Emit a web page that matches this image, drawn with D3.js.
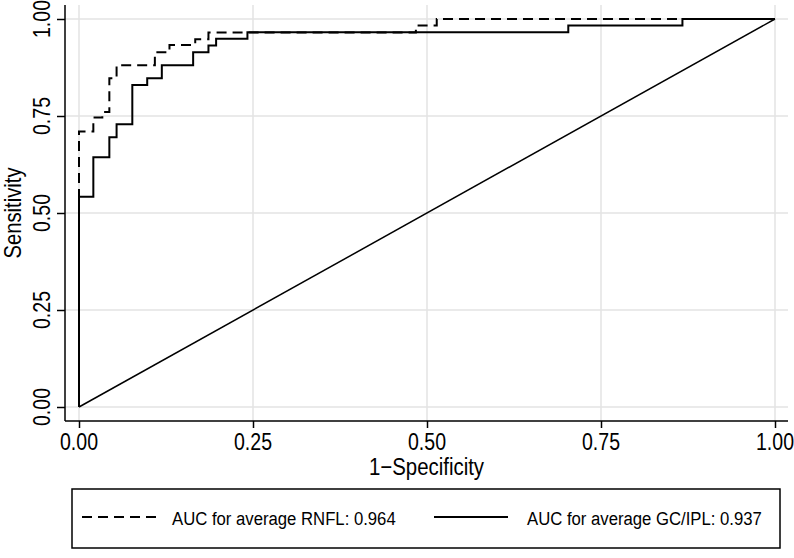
<!DOCTYPE html>
<html><head><meta charset="utf-8">
<script src="https://cdn.jsdelivr.net/npm/d3@7"></script>
<style>html,body{margin:0;padding:0;background:#fff;}svg{display:block;}</style>
</head><body>
<svg id="chart" width="794" height="558"></svg>
<script>
// ---- data ----
const xTicks = [0, 0.25, 0.5, 0.75, 1];
const yTicks = [0, 0.25, 0.5, 0.75, 1];
const xTickLabels = ["0.00", "0.25", "0.50", "0.75", "1.00"];
const yTickLabels = ["0.00", "0.25", "0.50", "0.75", "1.00"];
// ROC points (1-specificity, sensitivity); steps drawn horizontally then vertically
const rnflFPR = [0, 0, 0.0206, 0.0335, 0.0436, 0.054, 0.109, 0.130, 0.167, 0.186, 0.484, 0.514, 1];
const rnflTPR = [0, 0.71, 0.746, 0.760, 0.847, 0.881, 0.914, 0.933, 0.948, 0.965, 0.983, 1.0, 1.0];
const gcFPR = [0, 0, 0.0206, 0.0436, 0.054, 0.0766, 0.098, 0.119, 0.164, 0.186, 0.197, 0.242, 0.703, 0.867, 1];
const gcTPR = [0, 0.542, 0.644, 0.695, 0.729, 0.830, 0.847, 0.881, 0.914, 0.932, 0.949, 0.966, 0.983, 1.0, 1.0];
const refLine = [[0, 0], [1, 1]];
const legendLabels = ["AUC for average RNFL: 0.964", "AUC for average GC/IPL: 0.937"];
const xTitle = "1\u2212Specificity";
const yTitle = "Sensitivity";

// ---- layout ----
const svg = d3.select("#chart");
const font = "'Liberation Sans', Arial, sans-serif";
const SX = 0.85;
const x = d3.scaleLinear().domain([0, 1]).range([79, 775]);
const y = d3.scaleLinear().domain([0, 1]).range([407, 19]);
const plotL = 65, plotR = 788, plotT = 5, plotB = 421;

// gridlines
const grid = svg.append("g");
grid.selectAll("line.gx").data(xTicks).join("line")
  .attr("x1", d => x(d)).attr("x2", d => x(d)).attr("y1", plotT).attr("y2", plotB)
  .attr("stroke", "#e3e3e3").attr("stroke-width", 1.5);
grid.selectAll("line.gy").data(yTicks).join("line")
  .attr("y1", d => y(d)).attr("y2", d => y(d)).attr("x1", plotL).attr("x2", plotR)
  .attr("stroke", "#e3e3e3").attr("stroke-width", 1.5);

// axes
const xAxis = svg.append("g").attr("transform", `translate(0,${plotB})`)
  .call(d3.axisBottom(x).tickValues(xTicks).tickSize(7).tickFormat(""));
const yAxis = svg.append("g").attr("transform", `translate(${plotL},0)`)
  .call(d3.axisLeft(y).tickValues(yTicks).tickSize(8).tickFormat(""));
[xAxis, yAxis].forEach(a => {
  a.select(".domain").remove();
  a.selectAll(".tick line").attr("stroke", "#000").attr("stroke-width", 1.5);
});
svg.append("line").attr("x1", plotL).attr("x2", plotR).attr("y1", plotB).attr("y2", plotB)
  .attr("stroke", "#000").attr("stroke-width", 1.5);
svg.append("line").attr("x1", plotL).attr("x2", plotL).attr("y1", plotT).attr("y2", plotB)
  .attr("stroke", "#000").attr("stroke-width", 1.5);

// tick labels
svg.append("g").selectAll("text").data(xTicks).join("text")
  .attr("transform", d => `translate(${x(d)},450) scale(${SX},1)`)
  .attr("text-anchor", "middle").attr("font-family", font).attr("font-size", 23)
  .attr("fill", "#000").text((d, i) => xTickLabels[i]);
svg.append("g").selectAll("text").data(yTicks).join("text")
  .attr("transform", d => `translate(50,${y(d)}) rotate(-90) scale(${SX},1)`)
  .attr("text-anchor", "middle").attr("font-family", font).attr("font-size", 23)
  .attr("fill", "#000").text((d, i) => yTickLabels[i]);

// axis titles
svg.append("text").attr("transform", `translate(${(plotL + plotR) / 2},475) scale(${SX},1)`)
  .attr("text-anchor", "middle").attr("font-family", font).attr("font-size", 24)
  .attr("fill", "#000").text(xTitle);
svg.append("text").attr("transform", `translate(21,${(plotT + plotB) / 2}) rotate(-90) scale(0.88,1)`)
  .attr("text-anchor", "middle").attr("font-family", font).attr("font-size", 23)
  .attr("fill", "#000").text(yTitle);

// lines
const line = d3.line().x(d => x(d[0])).y(d => y(d[1]));
const stepLine = d3.line().x(d => x(d[0])).y(d => y(d[1])).curve(d3.curveStepAfter);
const rnfl = rnflFPR.map((v, i) => [v, rnflTPR[i]]);
const gc = gcFPR.map((v, i) => [v, gcTPR[i]]);

svg.append("path").datum(refLine).attr("d", line)
  .attr("fill", "none").attr("stroke", "#000").attr("stroke-width", 1.5);
svg.append("path").datum(rnfl).attr("d", stepLine)
  .attr("fill", "none").attr("stroke", "#000").attr("stroke-width", 2)
  .attr("stroke-dasharray", "10,6");
svg.append("path").datum(gc).attr("d", stepLine)
  .attr("fill", "none").attr("stroke", "#000").attr("stroke-width", 2);

// legend
const lg = svg.append("g");
lg.append("rect").attr("x", 72).attr("y", 489).attr("width", 708).attr("height", 59)
  .attr("fill", "#fff").attr("stroke", "#000").attr("stroke-width", 1.5);
const legendItems = [
  {x1: 82, x2: 160, tx: 172, dash: "10,6"},
  {x1: 434, x2: 508, tx: 527, dash: null}
];
legendItems.forEach((it, i) => {
  const l = lg.append("line").attr("x1", it.x1).attr("x2", it.x2).attr("y1", 517).attr("y2", 517)
    .attr("stroke", "#000").attr("stroke-width", 2);
  if (it.dash) l.attr("stroke-dasharray", it.dash);
  lg.append("text").attr("transform", `translate(${it.tx},525) scale(0.88,1)`)
    .attr("font-family", font).attr("font-size", 19).attr("fill", "#000").text(legendLabels[i]);
});
</script>
</body></html>
